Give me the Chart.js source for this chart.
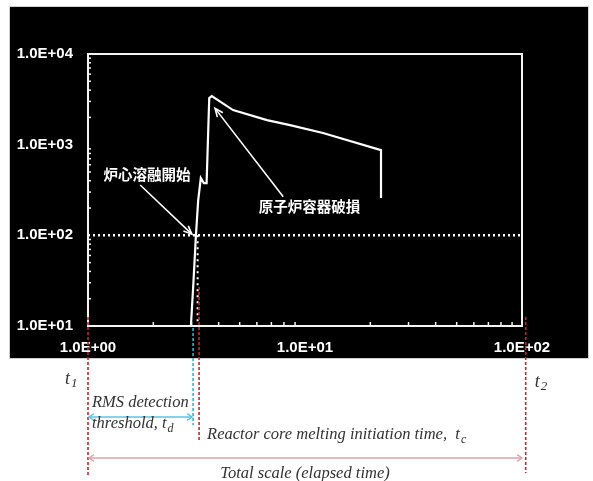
<!DOCTYPE html>
<html><head><meta charset="utf-8">
<script src="https://cdn.jsdelivr.net/npm/chart.js@4.4.0/dist/chart.umd.min.js"></script>
<style>html,body{margin:0;padding:0;background:#fff;}canvas{display:block;}</style>
</head><body>
<canvas id="c" width="593" height="481"></canvas>
<script>
// ---- data ----
const curveX = [2.98, 3.06, 3.14, 3.22, 3.31, 3.42, 3.52, 3.62, 3.72, 4.66, 6.68, 8.53, 12.1, 22.4, 22.4];
const curveY = [10, 29.8, 95.7, 245, 428, 377, 377, 3263, 3435, 2405, 1867, 1644, 1343, 871, 258];
const thresholdX = [1, 100];
const thresholdY = [100, 100];
const traceX = [3.2, 3.2];
const traceY = [100, 10.5];
const xTicks = [1, 10, 100];
const xTickLabels = ['1.0E+00', '1.0E+01', '1.0E+02'];
const yTicks = [10, 100, 1000, 10000];
const yTickLabels = ['1.0E+01', '1.0E+02', '1.0E+03', '1.0E+04'];
const noteText = ['炉心溶融開始', '原子炉容器破損'];
const noteX = [1.87, 10.5];
const noteY = [474, 210];
const arrowFromX = [1.74, 7.94];
const arrowFromY = [359, 267];
const arrowToX = [3.01, 3.85];
const arrowToY = [103, 2513];
const markerX = { t1: 1, td: 3.05, tc: 3.25, t2: 104, end: 100 };

const pts = (xs, ys) => xs.map((x, i) => ({ x, y: ys[i] }));

function line(ctx, x1, y1, x2, y2) { ctx.beginPath(); ctx.moveTo(x1, y1); ctx.lineTo(x2, y2); ctx.stroke(); }
function head(ctx, x1, y1, x2, y2, len, ang) {
  const a = Math.atan2(y2 - y1, x2 - x1);
  ctx.beginPath();
  ctx.moveTo(x2 - len * Math.cos(a - ang), y2 - len * Math.sin(a - ang));
  ctx.lineTo(x2, y2);
  ctx.lineTo(x2 - len * Math.cos(a + ang), y2 - len * Math.sin(a + ang));
  ctx.stroke();
}
function subText(ctx, main, sub, x, y, size, align) {
  ctx.font = 'italic ' + size + 'px "Liberation Serif"';
  const w1 = ctx.measureText(main).width;
  ctx.font = 'italic ' + Math.round(size * 0.72) + 'px "Liberation Serif"';
  const w2 = ctx.measureText(sub).width;
  let sx = x;
  if (align === 'center') sx = x - (w1 + w2 + 1) / 2;
  ctx.textAlign = 'left'; ctx.textBaseline = 'middle';
  ctx.font = 'italic ' + size + 'px "Liberation Serif"';
  ctx.fillText(main, sx, y);
  ctx.font = 'italic ' + Math.round(size * 0.72) + 'px "Liberation Serif"';
  ctx.fillText(sub, sx + w1 + 1, y + size * 0.28);
}

const decor = {
  id: 'decor',
  beforeDraw(chart) {
    const { ctx, chartArea: a } = chart;
    ctx.save();
    ctx.fillStyle = '#fff'; ctx.fillRect(0, 0, chart.width, chart.height);
    ctx.fillStyle = '#d0d0d0'; ctx.fillRect(a.left - 79, a.top - 48, 580, 353);
    ctx.fillStyle = '#000'; ctx.fillRect(a.left - 78, a.top - 47, 578, 351);
    ctx.restore();
  },
  afterDatasetsDraw(chart) {
    const { ctx, chartArea: a, scales: { x, y } } = chart;
    ctx.save();
    ctx.strokeStyle = '#f4f4f4'; ctx.lineWidth = 2;
    ctx.strokeRect(a.left, a.top, a.right - a.left, a.bottom - a.top);
    ctx.lineWidth = 1.5;
    for (const d of [1, 10]) for (let k = 2; k <= 9; k++) {
      const px = x.getPixelForValue(d * k);
      line(ctx, px, a.bottom, px, a.bottom - 4);
    }
    for (const d of [10, 100, 1000]) for (let k = 2; k <= 9; k++) {
      const py = y.getPixelForValue(d * k);
      line(ctx, a.left, py, a.left + 3, py);
    }
    // arrows and Japanese notes
    ctx.strokeStyle = '#fff'; ctx.lineWidth = 1.6;
    for (let i = 0; i < arrowFromX.length; i++) {
      const x1 = x.getPixelForValue(arrowFromX[i]), y1 = y.getPixelForValue(arrowFromY[i]);
      const x2 = x.getPixelForValue(arrowToX[i]), y2 = y.getPixelForValue(arrowToY[i]);
      line(ctx, x1, y1, x2, y2);
      head(ctx, x1, y1, x2, y2, 9, 0.4);
    }
    ctx.fillStyle = '#fff';
    ctx.font = 'bold 14.5px "Noto Sans CJK JP"';
    ctx.textAlign = 'center'; ctx.textBaseline = 'middle';
    for (let i = 0; i < noteText.length; i++) {
      ctx.fillText(noteText[i], x.getPixelForValue(noteX[i]), y.getPixelForValue(noteY[i]));
    }
    ctx.restore();
  },
  afterDraw(chart) {
    const { ctx, chartArea: a, scales: { x } } = chart;
    const b = a.bottom;
    const p1 = x.getPixelForValue(markerX.t1), pd = x.getPixelForValue(markerX.td);
    const pc = x.getPixelForValue(markerX.tc), p2 = x.getPixelForValue(markerX.t2);
    const pe = x.getPixelForValue(markerX.end);
    ctx.save();
    ctx.lineWidth = 1.6;
    ctx.setLineDash([3, 2]);
    ctx.strokeStyle = '#c4262e';
    line(ctx, p1, b - 9, p1, b + 149);
    line(ctx, pc, b - 39, pc, b + 116);
    line(ctx, p2, b - 9, p2, b + 147);
    ctx.strokeStyle = '#2fb3d8';
    line(ctx, pd, b + 2, pd, b + 99);
    ctx.setLineDash([]);
    // cyan double arrow
    ctx.strokeStyle = '#5cc3e4'; ctx.lineWidth = 1.4;
    line(ctx, p1 + 1, b + 91, pd - 1, b + 91);
    head(ctx, pd, b + 91, p1 + 1, b + 91, 6, 0.6);
    head(ctx, p1, b + 91, pd - 1, b + 91, 6, 0.6);
    // pink double arrow
    ctx.strokeStyle = '#e3a1aa';
    line(ctx, p1 + 1, b + 132, pe, b + 132);
    head(ctx, pe, b + 132, p1 + 1, b + 132, 6, 0.6);
    head(ctx, p1, b + 132, pe, b + 132, 6, 0.6);
    // labels
    ctx.fillStyle = '#333';
    subText(ctx, 't', '1', p1 - 23, b + 53, 18, 'left');
    subText(ctx, 't', '2', p2 + 9, b + 56, 18, 'left');
    ctx.font = 'italic 16.5px "Liberation Serif"';
    ctx.textAlign = 'left'; ctx.textBaseline = 'middle';
    ctx.fillText('RMS detection', p1 + 4, b + 77);
    subText(ctx, 'threshold, t', 'd', p1 + 4, b + 98, 16.5, 'left');
    subText(ctx, 'Reactor core melting initiation time,  t', 'c', pc + 8, b + 109, 16.5, 'left');
    ctx.font = 'italic 16.5px "Liberation Serif"';
    ctx.textAlign = 'center';
    ctx.fillText('Total scale (elapsed time)', (p1 + pe) / 2, b + 148);
    ctx.restore();
  }
};

const tickFont = { family: 'Liberation Sans', size: 15, weight: 'bold' };

new Chart(document.getElementById('c'), {
  type: 'line',
  data: {
    datasets: [
      { data: pts(curveX, curveY), borderColor: '#fff', borderWidth: 2.2, pointRadius: 0, tension: 0, fill: false },
      { data: pts(thresholdX, thresholdY), borderColor: '#fff', borderWidth: 2.5, borderDash: [2, 3], pointRadius: 0, fill: false },
      { data: pts(traceX, traceY), borderColor: '#fff', borderWidth: 2, borderDash: [2, 4], pointRadius: 0, fill: false }
    ]
  },
  options: {
    responsive: false, animation: false, devicePixelRatio: 1,
    layout: { padding: { left: 0, top: 54, right: 71, bottom: 0 } },
    plugins: { legend: { display: false }, tooltip: { enabled: false } },
    scales: {
      x: {
        type: 'logarithmic', min: 1, max: 100,
        grid: { display: false, drawTicks: false }, border: { display: false },
        afterBuildTicks(s) { s.ticks = xTicks.map(v => ({ value: v })); },
        afterFit(s) { s.height = 155; },
        ticks: { color: '#fff', font: tickFont, padding: 13, maxRotation: 0, autoSkip: false,
                 callback: (v, i) => xTickLabels[i] }
      },
      y: {
        type: 'logarithmic', min: 10, max: 10000,
        grid: { display: false, drawTicks: false }, border: { display: false },
        afterBuildTicks(s) { s.ticks = yTicks.map(v => ({ value: v })); },
        afterFit(s) { s.width = 88; },
        ticks: { color: '#fff', font: tickFont, padding: 15, autoSkip: false,
                 callback: (v, i) => yTickLabels[i] }
      }
    }
  },
  plugins: [decor]
});
</script>
</body></html>
